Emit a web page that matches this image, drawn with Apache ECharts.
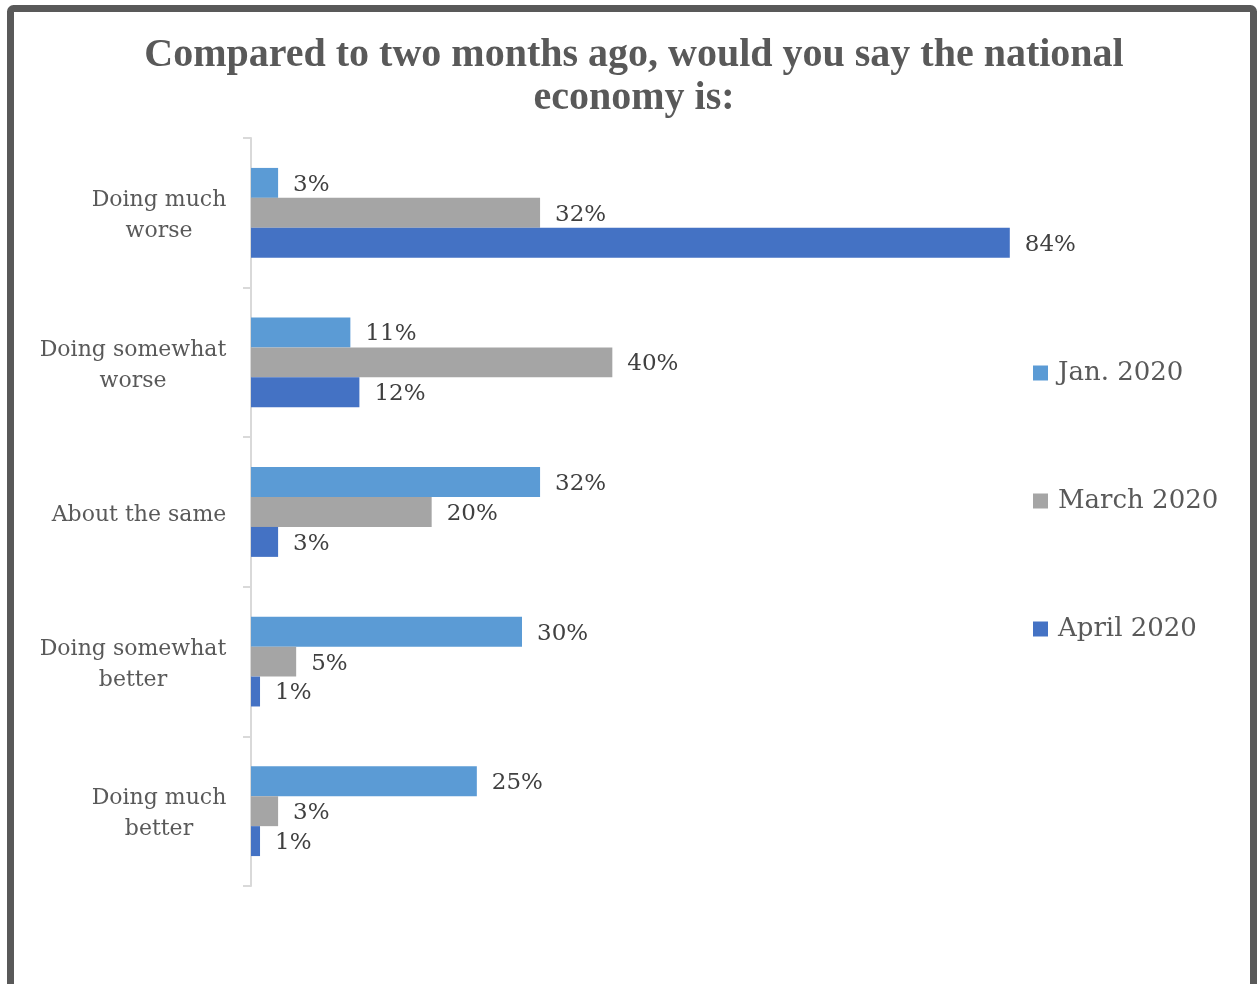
<!DOCTYPE html>
<html>
<head>
<meta charset="utf-8">
<script src="https://cdn.jsdelivr.net/npm/echarts@6/dist/echarts.min.js"></script>
<style>
  html, body { margin: 0; padding: 0; background: #fff; }
  #chart { width: 1257px; height: 984px; }
</style>
</head>
<body>
<div id="chart"></div>
<script>
// Survey responses on the national economy, by wave (percent)
const categories = [
  'Doing much\nworse',
  'Doing somewhat\nworse',
  'About the same',
  'Doing somewhat\nbetter',
  'Doing much\nbetter'
];
const seriesNames = ['Jan. 2020', 'March 2020', 'April 2020'];
const jan2020 = [3, 11, 32, 30, 25];
const march2020 = [32, 40, 20, 5, 3];
const april2020 = [84, 12, 3, 1, 1];
const colors = ['#5B9BD5', '#A5A5A5', '#4472C4'];

const serif = '"DejaVu Serif", "Liberation Serif", serif';
const titleFont = '"Liberation Serif", "DejaVu Serif", serif';
const labelSize = 22;

// Category labels: each line centred within its own block, block right-aligned to the axis
const measureCtx = document.createElement('canvas').getContext('2d');
measureCtx.font = labelSize + 'px ' + serif;
const labelRich = {};
categories.forEach(function (cat, i) {
  const w = Math.max.apply(null, cat.split('\n').map(function (s) {
    return measureCtx.measureText(s).width;
  }));
  labelRich['c' + i] = {
    width: Math.ceil(w) + 1,
    align: 'center',
    fontFamily: serif,
    fontSize: labelSize,
    lineHeight: 31,
    color: '#595959'
  };
});

const chart = echarts.init(document.getElementById('chart'));

function barSeries(name, data, color) {
  return {
    name: name,
    type: 'bar',
    data: data,
    barGap: '0%',
    barCategoryGap: '40%',
    itemStyle: { color: color },
    label: {
      show: true,
      position: 'right',
      distance: 15,
      offset: [0, 2],
      formatter: '{c}%',
      fontFamily: serif,
      fontSize: 23,
      color: '#404040'
    }
  };
}

chart.setOption({
  animation: false,
  backgroundColor: '#ffffff',
  graphic: [
    {
      type: 'rect',
      shape: { x: 10.5, y: 8.5, width: 1243, height: 1010, r: 3 },
      style: { fill: 'none', stroke: '#595959', lineWidth: 7 },
      silent: true
    },
    {
      type: 'text',
      x: 634,
      y: 34,
      silent: true,
      style: {
        text: 'Compared to two months ago, would you say the national\neconomy is:',
        align: 'center',
        verticalAlign: 'top',
        font: 'bold 40px ' + titleFont,
        lineHeight: 43,
        fill: '#595959'
      }
    }
  ],
  legend: {
    orient: 'vertical',
    left: 1028,
    top: 355,
    itemWidth: 15,
    itemHeight: 15,
    itemGap: 102,
    icon: 'rect',
    textStyle: { fontFamily: serif, fontSize: 26, color: '#595959', padding: [0, 0, 0, 5] },
    data: seriesNames
  },
  grid: { left: 251, top: 138, width: 813, height: 748 },
  xAxis: {
    type: 'value',
    min: 0,
    max: 90,
    show: false
  },
  yAxis: {
    type: 'category',
    data: categories,
    inverse: true,
    axisLine: { lineStyle: { color: '#D9D9D9', width: 2 } },
    axisTick: { show: true, length: 8, lineStyle: { color: '#D9D9D9', width: 2 } },
    axisLabel: {
      margin: 24,
      align: 'right',
      padding: [6, 0, 0, 0],
      formatter: function (value, index) {
        return value.split('\n').map(function (s) {
          return '{c' + index + '|' + s + '}';
        }).join('\n');
      },
      rich: labelRich
    }
  },
  series: [
    barSeries(seriesNames[0], jan2020, colors[0]),
    barSeries(seriesNames[1], march2020, colors[1]),
    barSeries(seriesNames[2], april2020, colors[2])
  ]
});
</script>
</body>
</html>
